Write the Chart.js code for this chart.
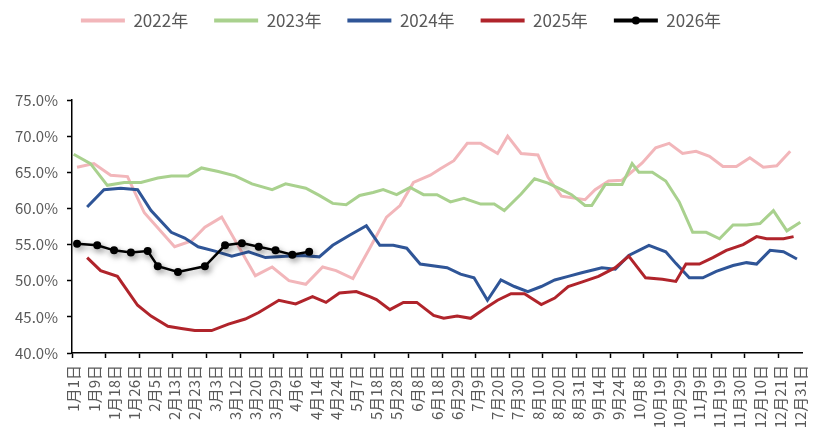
<!DOCTYPE html>
<html>
<head>
<meta charset="utf-8">
<script src="https://cdn.jsdelivr.net/npm/chart.js@4.4.1/dist/chart.umd.min.js"></script>
<style>
  html, body { margin: 0; padding: 0; background: #fff; }
  canvas { display: block; }
</style>
</head>
<body>
<canvas id="chart" width="814" height="441"></canvas>
<script>
// x轴：217个日期类别，每6个显示一个标签，每10个一个刻度线
const categoryCount = 217;
const labelStep = 6;
const tickMarkStep = 10;
const tickLabels = ['1月1日', '1月9日', '1月18日', '1月26日', '2月5日', '2月13日', '2月23日', '3月3日',
    '3月12日', '3月20日', '3月29日', '4月6日', '4月14日', '4月24日', '5月7日', '5月18日', '5月28日',
    '6月8日', '6月18日', '6月29日', '7月9日', '7月20日', '7月30日', '8月10日', '8月20日', '8月31日',
    '9月14日', '9月24日', '10月8日', '10月19日', '10月29日', '11月9日', '11月19日', '11月30日',
    '12月10日', '12月21日', '12月31日'];

const seriesNames = ['2022年', '2023年', '2024年', '2025年', '2026年'];

// 各年份：类别位置 + 数值(%)
const pos2022 = [1, 6, 11, 16, 21, 30, 35, 39, 44, 54, 59, 64, 69, 74, 78, 83, 88, 93, 97, 101, 106,
    109, 113, 117, 121, 126, 129, 133, 138, 141, 145, 152, 155, 159, 163, 169, 173, 177, 181, 185, 189, 193, 197, 201, 205, 209, 213];
const val2022 = [65.7, 66.2, 64.6, 64.4, 59.4, 54.7, 55.5, 57.4, 58.8, 50.7, 51.9, 50.0, 49.5, 51.9, 51.4, 50.3, 54.5, 58.8, 60.4, 63.6, 64.6,
    65.5, 66.6, 69.0, 69.0, 67.6, 70.0, 67.6, 67.4, 64.3, 61.7, 61.2, 62.6, 63.8, 63.9, 66.3, 68.4, 69.0, 67.6, 67.9, 67.2, 65.8, 65.8, 67.0, 65.7, 65.9, 67.9];

const pos2023 = [0, 5, 10, 15, 20, 25, 29, 34, 38, 43, 48, 53, 59, 63, 69, 73, 77, 81, 85, 89, 92, 96, 100, 104,
    108, 112, 116, 121, 125, 128, 133, 137, 141, 145, 148, 152, 154, 158, 163, 166, 168, 172, 176, 180, 184, 188, 192, 196, 200, 204, 208, 212, 216];
const val2023 = [67.5, 66.2, 63.2, 63.6, 63.6, 64.2, 64.5, 64.5, 65.6, 65.1, 64.5, 63.4, 62.6, 63.4, 62.8, 61.8, 60.7, 60.5, 61.8, 62.2, 62.6, 61.9, 62.9, 61.9,
    61.9, 60.9, 61.4, 60.6, 60.6, 59.7, 62.0, 64.1, 63.5, 62.6, 61.9, 60.4, 60.4, 63.3, 63.3, 66.2, 65.0, 65.0, 63.8, 60.9, 56.7, 56.7, 55.8, 57.7, 57.7, 57.9, 59.7, 56.9, 58.1];

const pos2024 = [4, 9, 14, 19, 23, 29, 33, 37, 42, 47, 52, 57, 63, 68, 73, 77, 82, 87, 91, 95, 99, 103,
    111, 115, 119, 123, 127, 131, 135, 139, 143, 147, 151, 157, 161, 165, 171, 176, 179, 183, 187, 191, 196, 200, 203, 207, 211, 215];
const val2024 = [60.2, 62.6, 62.8, 62.6, 59.7, 56.7, 55.9, 54.7, 54.1, 53.4, 54.0, 53.2, 53.4, 53.5, 53.3, 54.9, 56.3, 57.6, 54.9, 54.9, 54.5, 52.3,
    51.8, 50.9, 50.4, 47.3, 50.1, 49.2, 48.5, 49.2, 50.1, 50.6, 51.1, 51.8, 51.6, 53.5, 54.9, 54.0, 52.4, 50.4, 50.4, 51.3, 52.1, 52.5, 52.3, 54.2, 54.0, 53.0];

const pos2025 = [4, 8, 13, 19, 23, 28, 32, 36, 41, 46, 51, 55, 61, 66, 71, 75, 79, 84, 88, 90, 94, 98, 102, 107,
    110, 114, 118, 122, 126, 130, 134, 139, 143, 147, 151, 156, 161, 165, 170, 175, 179, 182, 186, 190, 194, 199, 203, 206, 211, 214];
const val2025 = [53.2, 51.4, 50.6, 46.6, 45.1, 43.7, 43.4, 43.1, 43.1, 44.0, 44.7, 45.6, 47.3, 46.8, 47.8, 47.0, 48.3, 48.5, 47.8, 47.4, 46.0, 47.0, 47.0, 45.2,
    44.8, 45.1, 44.8, 46.1, 47.3, 48.2, 48.2, 46.7, 47.6, 49.2, 49.8, 50.6, 51.8, 53.4, 50.4, 50.2, 49.9, 52.3, 52.3, 53.2, 54.2, 55.0, 56.1, 55.8, 55.8, 56.1];

const pos2026 = [1, 7, 12, 17, 22, 25, 31, 39, 45, 50, 55, 60, 65, 70];
const val2026 = [55.1, 54.9, 54.2, 53.9, 54.1, 52.0, 51.2, 52.0, 54.9, 55.2, 54.7, 54.2, 53.6, 54.0];

const yTicks = [40, 45, 50, 55, 60, 65, 70, 75];
const colors = ['#F2B6BA', '#A9D18E', '#2F5597', '#B0242B', '#000000'];

function toSeries(pos, val) {
    let arr = new Array(categoryCount).fill(null);
    pos.forEach((p, i) => { arr[p] = val[i]; });
    return arr;
}

let categories = [];
for (let i = 0; i < categoryCount; i++) {
    categories.push(i % labelStep === 0 ? tickLabels[i / labelStep] : '');
}

const allPos = [pos2022, pos2023, pos2024, pos2025, pos2026];
const allVal = [val2022, val2023, val2024, val2025, val2026];

let datasets = seriesNames.map((name, k) => ({
    label: name,
    data: toSeries(allPos[k], allVal[k]),
    borderColor: colors[k],
    backgroundColor: colors[k],
    borderWidth: k === 4 ? 2.5 : 3,
    pointRadius: k === 4 ? 4 : 0,
    pointHoverRadius: k === 4 ? 4 : 0,
    pointBackgroundColor: colors[k],
    pointBorderWidth: 0,
    spanGaps: true,
    tension: 0,
    order: 5 - k
}));

// 2026年折线的阴影
const shadowPlugin = {
    id: 'lineShadow',
    beforeDatasetDraw(chart, args) {
        if (args.index !== 4) return;
        const ctx = chart.ctx;
        ctx.save();
        ctx.shadowColor = 'rgba(0,0,0,0.35)';
        ctx.shadowBlur = 6;
        ctx.shadowOffsetX = 2;
        ctx.shadowOffsetY = 3;
    },
    afterDatasetDraw(chart, args) {
        if (args.index !== 4) return;
        chart.ctx.restore();
    }
};

// 图例高度固定，让绘图区从75%刻度处开始
const legendHeight = 114;
const legendFit = {
    id: 'legendFit',
    afterInit(chart) {
        const lg = chart.legend;
        const fit = lg.fit.bind(lg);
        lg.fit = function () {
            fit();
            this.height = legendHeight;
        };
    }
};

// 图例里2026年的圆点
const legendDot = {
    id: 'legendDot',
    afterDraw(chart) {
        const box = chart.legend.legendHitBoxes[4];
        if (!box) return;
        const bw = chart.legend.options.labels.boxWidth;
        const ctx = chart.ctx;
        ctx.save();
        ctx.fillStyle = '#000';
        ctx.beginPath();
        ctx.arc(box.left + bw / 2, box.top + chart.legend.options.labels.font.size / 2, 4, 0, Math.PI * 2);
        ctx.fill();
        ctx.restore();
    }
};

const grey = '#595959';
const fontFamily = '"Noto Sans CJK SC", "Noto Sans", sans-serif';

new Chart(document.getElementById('chart').getContext('2d'), {
    type: 'line',
    data: { labels: categories, datasets: datasets },
    options: {
        responsive: false,
        animation: false,
        events: [],
        layout: { padding: { left: 0, right: 12, top: -14, bottom: 0 } },
        plugins: {
            tooltip: { enabled: false },
            legend: {
                position: 'top',
                labels: {
                    color: grey,
                    font: { family: fontFamily, size: 17 },
                    boxWidth: 44,
                    boxHeight: 4,
                    padding: 26,
                    sort: (a, b) => a.datasetIndex - b.datasetIndex,
                    generateLabels(chart) {
                        return Chart.defaults.plugins.legend.labels.generateLabels(chart).map(item => {
                            item.lineWidth = 0;
                            item.fillStyle = colors[item.datasetIndex];
                            return item;
                        });
                    }
                }
            }
        },
        scales: {
            x: {
                type: 'category',
                offset: true,
                afterFit(scale) {
                    scale.height = 88;
                    scale.paddingLeft = 0;
                    scale.paddingRight = 0;
                },
                border: { display: true, color: '#000', width: 1.5 },
                grid: {
                    offset: true,
                    drawOnChartArea: false,
                    drawTicks: true,
                    tickLength: 5,
                    tickWidth: 1.5,
                    color: ctx => (ctx.index % tickMarkStep === 0 && ctx.index < categoryCount) ? '#000' : 'rgba(0,0,0,0)',
                    tickColor: ctx => (ctx.index % tickMarkStep === 0 && ctx.index < categoryCount) ? '#000' : 'rgba(0,0,0,0)'
                },
                ticks: {
                    autoSkip: false,
                    minRotation: 90,
                    maxRotation: 90,
                    padding: 7,
                    color: grey,
                    font: { family: fontFamily, size: 15 }
                }
            },
            y: {
                min: 40,
                max: 75,
                afterFit(scale) { scale.width = 72; },
                afterBuildTicks(scale) { scale.ticks = yTicks.map(v => ({ value: v })); },
                border: { display: true, color: '#000', width: 1.5 },
                grid: {
                    drawOnChartArea: false,
                    drawTicks: true,
                    tickLength: 5,
                    tickWidth: 1.5,
                    tickColor: '#000'
                },
                ticks: {
                    padding: 9,
                    color: grey,
                    font: { family: fontFamily, size: 15 },
                    callback: v => v.toFixed(1) + '%'
                }
            }
        }
    },
    plugins: [shadowPlugin, legendFit, legendDot]
});
</script>
</body>
</html>
